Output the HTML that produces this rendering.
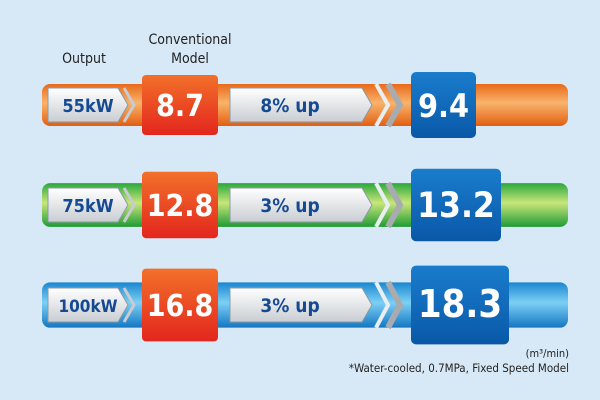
<!DOCTYPE html>
<html><head><meta charset="utf-8"><style>
html,body{margin:0;padding:0;background:#d7e9f7;}
svg{display:block;font-family:"DejaVu Sans Condensed","Liberation Sans Narrow","Liberation Sans",sans-serif;}
</style></head><body>
<svg id="c" width="600" height="400" viewBox="0 0 600 400">
<defs>
<linearGradient id="gO" x1="0" y1="0" x2="0" y2="1"><stop offset="0" stop-color="#e8691a"/><stop offset="0.45" stop-color="#f9b36b"/><stop offset="1" stop-color="#e15f12"/></linearGradient>
<linearGradient id="gG" x1="0" y1="0" x2="0" y2="1"><stop offset="0" stop-color="#2aa83c"/><stop offset="0.45" stop-color="#c9e67a"/><stop offset="1" stop-color="#1f9a34"/></linearGradient>
<linearGradient id="gB" x1="0" y1="0" x2="0" y2="1"><stop offset="0" stop-color="#1a86cf"/><stop offset="0.45" stop-color="#7cd0f5"/><stop offset="1" stop-color="#1376c2"/></linearGradient>
<linearGradient id="gR" x1="0" y1="0" x2="0" y2="1"><stop offset="0" stop-color="#f2702a"/><stop offset="1" stop-color="#e3261e"/></linearGradient>
<linearGradient id="gN" x1="0" y1="0" x2="0" y2="1"><stop offset="0" stop-color="#1a7ccc"/><stop offset="1" stop-color="#0a58a8"/></linearGradient>
<linearGradient id="gW" x1="0" y1="0" x2="0" y2="1"><stop offset="0" stop-color="#ffffff"/><stop offset="1" stop-color="#c9cdd2"/></linearGradient>
</defs>
<text x="84" y="63" font-size="14" text-anchor="middle" fill="#222">Output</text>
<text x="190" y="44" font-size="14" text-anchor="middle" fill="#222">Conventional</text>
<text x="190" y="63" font-size="14" text-anchor="middle" fill="#222">Model</text>
<g id="rows"></g>
<text x="569" y="357" font-size="11" text-anchor="end" fill="#222">(m³/min)</text>
<text x="569" y="372" font-size="11.5" text-anchor="end" fill="#222">*Water-cooled, 0.7MPa, Fixed Speed Model</text>
</svg>
<script>
const outputs = ["55kW","75kW","100kW"];
const conventional = [8.7,12.8,16.8];
const newModel = [9.4,13.2,18.3];
const increases = ["8% up","3% up","3% up"];
const pipeFills = ["url(#gO)","url(#gG)","url(#gB)"];
const NS="http://www.w3.org/2000/svg";
const g=document.getElementById('rows');
function mk(t,a,p){const e=document.createElementNS(NS,t);for(const k in a)e.setAttribute(k,a[k]);(p||g).appendChild(e);return e;}
function rowY(i){return 105+i*100;}
function boxW(v,i){return String(v).length*25-10+(i>1?8:0);}
outputs.forEach((o,i)=>{
  const cy=rowY(i), s=1+i*0.04, ph=42*s, bh=60*s+i*4;
  const grp=mk('g',{});
  
  
  const pipe=mk('rect',{x:42,y:cy-ph/2,width:526,height:ph,rx:8,fill:pipeFills[i]},grp);
  
  
  const lb=mk('path',{d:`M48 ${cy-17} H118 L128 ${cy} L118 ${cy+17} H48 Z`,fill:'url(#gW)',stroke:'#8a9aa8','stroke-width':1},grp);
  
  
  mk('path',{d:`M124 ${cy-17} L134 ${cy} L124 ${cy+17}`,fill:'none',stroke:'#c8ccd0','stroke-width':3},grp);
  const lt=mk('text',{x:88,y:cy+7,'font-size':o.length>4?17:18,'font-weight':'bold','text-anchor':'middle',fill:'#154a92'},grp);
  lt.textContent=o;
  
  
  const rb=mk('rect',{x:142,y:cy-bh/2,width:76,height:bh,rx:4,fill:'url(#gR)'},grp);
  
  
  const rt=mk('text',{x:180,y:cy+11,'font-size':30,'font-weight':'bold','text-anchor':'middle',fill:'#fff'},grp);
  rt.textContent=conventional[i];
  
  
  const ub=mk('path',{d:`M230 ${cy-17} H362 L372 ${cy} L362 ${cy+17} H230 Z`,fill:'url(#gW)',stroke:'#8a9aa8','stroke-width':1},grp);
  
  
  const ut=mk('text',{x:290,y:cy+7,'font-size':19,'font-weight':'bold','text-anchor':'middle',fill:'#154a92'},grp);
  ut.textContent=increases[i];
  
  
  mk('path',{d:`M376 ${cy-ph/2} L388 ${cy} L376 ${cy+ph/2}`,fill:'none',stroke:'#e8eef2','stroke-width':4},grp);
  mk('path',{d:`M388 ${cy-ph/2} L400 ${cy} L388 ${cy+ph/2}`,fill:'none',stroke:'#a8acb0','stroke-width':6},grp);
  const w=boxW(newModel[i],i), nh=bh+6;
  const nb=mk('rect',{x:411,y:cy-nh/2,width:w,height:nh,rx:5,fill:'url(#gN)'},grp);
  
  
  const nt=mk('text',{x:411+w/2,y:cy+12,'font-size':32+i*3,'font-weight':'bold','text-anchor':'middle',fill:'#fff'},grp);
  nt.textContent=newModel[i];
  
  
});
</script>
</body></html>
